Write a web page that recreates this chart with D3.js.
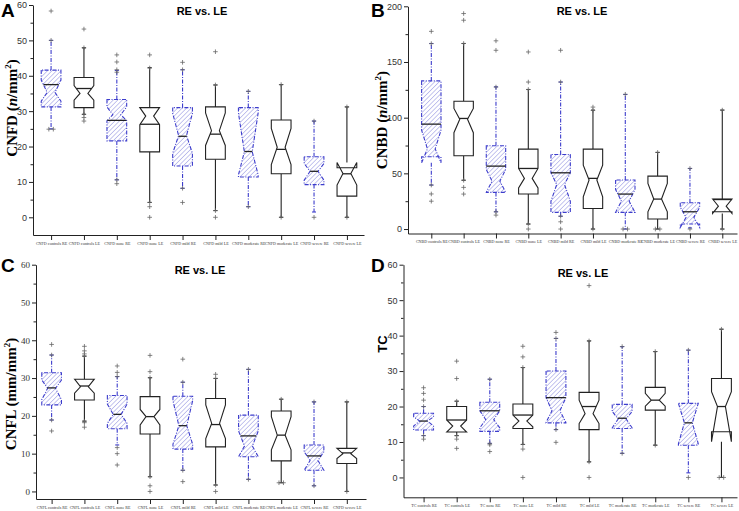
<!DOCTYPE html>
<html>
<head>
<meta charset="utf-8">
<script src="https://cdn.jsdelivr.net/npm/d3@7"></script>
<style>
body { margin: 0; background: #fff; }
svg { display: block; }
</style>
</head>
<body>
<svg width="739" height="511"></svg>
<script>
// box rows: [whiskerLow, q1, notchLow, waist, notchHigh, q3, whiskerHigh, median]
var cnfdLabels = ['CNFD controls RE', 'CNFD controls LE', 'CNFD none RE', 'CNFD none LE', 'CNFD mild RE',
                  'CNFD mild LE', 'CNFD moderate RE', 'CNFD moderate LE', 'CNFD severe RE', 'CNFD severe LE'];
var cnfdBoxes = [
    [25, 31.2, 32.8, 35.3, 38.8, 41.6, 50, 37.5],
    [29.1, 31.0, 33.1, 35.0, 37.2, 39.5, 47.9, 36.4],
    [10.6, 21.6, 27.3, 29.0, 31.2, 33.3, 41.5, 27.4],
    [4.2, 18.5, 26.2, 28.6, 31.0, 31.0, 42.3, 26.3],
    [8.2, 14.5, 18.1, 23.1, 29.4, 31.0, 41.7, 22.9],
    [1.9, 16.4, 20.3, 24.5, 29.5, 31.2, 37.4, 23.5],
    [3.0, 11.4, 12.0, 18.5, 29.5, 31.0, 35.6, 18.6],
    [0, 12.3, 14.9, 19.8, 25.1, 27.5, 37.5, 19.2],
    [1.5, 9.25, 10.5, 13.0, 15.2, 17.1, 27.2, 13.0],
    [0, 6.0, 9.1, 12.4, 15.5, 14.0, 31.2, 12.3]
];
var cnfdPoints = [
    [58.3, 50, 24.9, 24.9], [53.2, 47.9, 29.1, 28.2, 27.2], [45.9, 43.9, 41.7, 41, 10.6, 9.5],
    [45.9, 42.2, 4.2, 3, 0], [43.8, 41.7, 8.2, 4.2], [46.8, 37.4, 1.9, 0], [35.6, 3.0],
    [37.5, 0], [27.2, 0], [31.2, 0]
];
var cnfdTicks = [0, 10, 20, 30, 40, 50, 60];

var cnbdLabels = ['CNBD controls RE', 'CNBD controls LE', 'CNBD none RE', 'CNBD none LE', 'CNBD mild RE',
                  'CNBD mild LE', 'CNBD moderate RE', 'CNBD moderate LE', 'CNBD severe RE', 'CNBD severe LE'];
var cnbdBoxes = [
    [39.5, 64.9, 59.5, 72, 88.8, 133, 166.6, 94.2],
    [43.8, 65.8, 86.5, 98.5, 108.3, 114.8, 166.6, 99.3],
    [15.5, 32.9, 33, 43, 53.5, 74.8, 127.7, 56.5],
    [4.5, 31.4, 37, 45.5, 54.4, 71.8, 125.3, 54.4],
    [11.5, 15, 25, 40, 50.5, 67, 132, 50.5],
    [0, 18.5, 29, 44, 57.4, 71.8, 106.8, 45.5],
    [0, 15, 15, 25, 35.5, 44, 120.8, 31.4],
    [0, 9, 15.5, 27, 41, 47.5, 68.8, 26.9],
    [1, 4.5, 1.5, 10.5, 19.5, 23.6, 54.4, 15.5],
    [0, 15.5, 14, 20.5, 27, 27, 106.8, 26.5]
];
var cnbdPoints = [
    [177.5, 166.5, 39.5, 31.5, 25], [193.5, 187.5, 166.6, 43.8, 37.4, 31.4], [169, 160.5, 127.5, 15.5, 12.5],
    [159, 132, 125.3, 4.5, 0], [160.5, 132, 11.5, 6.5, 0], [109.5, 106.5, 0], [121, 0, 0],
    [68.8, 0, 0], [54.4, 0], [106.8, 0]
];
var cnbdTicks = [0, 50, 100, 150, 200];

var cnflLabels = ['CNFL controls RE', 'CNFL controls LE', 'CNFL none RE', 'CNFL none LE', 'CNFL mild RE',
                  'CNFL mild LE', 'CNFL moderate RE', 'CNFL moderate LE', 'CNFL severe RE', 'CNFD severe LE'];
var cnflBoxes = [
    [18.9, 22.9, 24.3, 27.3, 29.5, 31.4, 36.1, 27.4],
    [18.6, 24.2, 26.0, 27.7, 29.7, 29.7, 35.8, 27.9],
    [12.3, 16.6, 18.0, 20.4, 23.1, 25.4, 30.4, 20.4],
    [3.9, 15.2, 17.6, 19.8, 21.7, 25.1, 30.1, 19.8],
    [5.6, 11.2, 12.5, 17.4, 24.0, 25.2, 28.9, 17.4],
    [1.7, 11.8, 14.0, 18.0, 22.9, 24.6, 29.9, 17.7],
    [3.2, 9.2, 9.2, 12.0, 16.0, 20.2, 32.3, 14.7],
    [2.3, 8.1, 11.0, 14.9, 19.8, 21.3, 24.4, 14.9],
    [1.5, 5.6, 5.6, 8.2, 10.5, 12.3, 23.7, 9.4],
    [0, 7.4, 8.7, 10.0, 11.4, 11.4, 23.7, 10.2]
];
var cnflPoints = [
    [38.9, 36.1, 18.9, 16], [38.4, 37.2, 36.4, 35.8, 18.6, 18.2, 17], [33.2, 31.5, 30.4, 11.6, 10, 7],
    [36, 31.7, 30.1, 3.9, 1.5, 0], [35, 28.9, 5.6, 2.6], [31, 29.9, 1.7, 0], [32.3, 3.2],
    [24.4, 2.3, 2.3], [23.7, 1.5], [23.7, 0]
];
var cnflTicks = [0, 10, 20, 30, 40, 50, 60];

var tcLabels = ['TC controls RE', 'TC controls LE', 'TC none RE', 'TC none LE', 'TC mild RE',
                'TC mild LE', 'TC moderate RE', 'TC moderate LE', 'TC severe RE', 'TC severe LE'];
var tcBoxes = [
    [11.8, 13.4, 14.5, 15.9, 17.1, 18.1, 20, 15.9],
    [11.8, 12.8, 12.8, 14.5, 16.2, 20, 21.5, 16.2],
    [9.6, 13, 14, 16.3, 18.8, 21.2, 27.7, 18.8],
    [9.3, 13.8, 14.3, 15.9, 17.6, 20.7, 31, 17.6],
    [13.5, 15.4, 15.5, 18.8, 22.5, 30, 39.2, 22.5],
    [4.4, 13.5, 15.2, 18, 21.8, 24, 38.5, 20],
    [6.8, 13.8, 14, 16.5, 18.6, 20.6, 36.9, 16.7],
    [9.1, 19, 20.1, 21.8, 23.7, 25.4, 35.5, 21.8],
    [1.3, 9.1, 9.5, 15.4, 20.9, 20.9, 35.9, 15.4],
    [0, 12.9, 10.1, 20, 24.2, 27.9, 41.8, 20]
];
var tcPoints = [
    [25.3, 23.7, 21.8, 20, 11.8, 10.8], [32.8, 27.9, 21.5, 11.8, 10.8, 8.2], [27.7, 9.6, 9.2, 7.3],
    [37, 34, 31, 9.3, 8, 0], [40.9, 39.2, 13.5, 9.9], [54.1, 38.5, 4.4, 0], [36.9, 6.8],
    [35.5, 9.1], [35.9, 0], [41.8, 0, 0]
];
var tcTicks = [0, 10, 20, 30, 40, 50, 60];

var titleText = 'RE vs. LE';

var svg = d3.select('svg');

// hatch for the RE boxes
svg.append('defs').append('pattern')
    .attr('id', 'hatch')
    .attr('patternUnits', 'userSpaceOnUse')
    .attr('width', 3.2).attr('height', 3.2)
    .attr('patternTransform', 'rotate(45)')
    .append('line')
    .attr('x1', 0).attr('y1', 0).attr('x2', 0).attr('y2', 3.2)
    .attr('stroke', '#8d8ddf').attr('stroke-width', 1);

var panels = [
    {letter: 'A', labels: cnfdLabels, boxes: cnfdBoxes, points: cnfdPoints, ticks: cnfdTicks,
     yDom: [-5, 60], left: 33, right: 364, top: 5, bottom: 235, xDom: [0.45, 10.52],
     yTitle: 'CNFD', unit: 'n', serifTicks: false, lx: 17, ly: 108, tx: 202, ty: 15, letX: 1, letY: 17},
    {letter: 'B', labels: cnbdLabels, boxes: cnbdBoxes, points: cnbdPoints, ticks: cnbdTicks,
     yDom: [-4, 200], left: 408, right: 737, top: 6.3, bottom: 233.5, xDom: [0.279, 10.455],
     yTitle: 'CNBD', unit: 'n', serifTicks: false, lx: 387, ly: 120, tx: 582, ty: 15, letX: 371, letY: 17},
    {letter: 'C', labels: cnflLabels, boxes: cnflBoxes, points: cnflPoints, ticks: cnflTicks,
     yDom: [-2, 60], left: 36, right: 366, top: 264.7, bottom: 499, xDom: [0.524, 10.585],
     yTitle: 'CNFL', unit: 'mm', serifTicks: true, lx: 16, ly: 394, tx: 200, ty: 274, letX: 1, letY: 272},
    {letter: 'D', labels: tcLabels, boxes: tcBoxes, points: tcPoints, ticks: tcTicks,
     yDom: [-5.6, 60], left: 403.5, right: 737, top: 264.7, bottom: 497.3, xDom: [0.393, 10.47],
     yTitle: 'TC', unit: null, serifTicks: false, lx: 387, ly: 344, tx: 583, ty: 277, letX: 371, letY: 272}
];

panels.forEach(drawPanel);

function drawPanel(p) {
    var g = svg.append('g');
    var x = d3.scaleLinear().domain(p.xDom).range([p.left, p.right]);
    var y = d3.scaleLinear().domain(p.yDom).range([p.bottom, p.top]);
    var step = x(2) - x(1);
    var bw = step * 0.6;
    var inset = bw * 0.3;
    var tickFont = p.serifTicks ? 'Liberation Serif, Times New Roman, serif' : 'Liberation Sans, Arial, sans-serif';

    // minor ticks
    var minor = p.ticks.slice(1).map((d, i) => (d + p.ticks[i]) / 2);
    g.append('g')
        .attr('transform', 'translate(' + p.left + ',0)')
        .call(d3.axisLeft(y).tickValues(minor).tickSize(2.5).tickFormat(''))
        .call(a => a.select('.domain').remove())
        .selectAll('line').attr('stroke', '#222');

    var ya = g.append('g')
        .attr('transform', 'translate(' + p.left + ',0)')
        .call(d3.axisLeft(y).tickValues(p.ticks).tickSize(4).tickSizeOuter(0).tickPadding(2));
    ya.selectAll('line, path').attr('stroke', '#222');
    ya.selectAll('text').attr('font-family', tickFont).attr('font-size', 9).attr('fill', '#333');

    var xa = g.append('g')
        .attr('transform', 'translate(0,' + p.bottom + ')')
        .call(d3.axisBottom(x).tickValues(d3.range(1, 11)).tickSize(5).tickSizeOuter(0).tickPadding(2)
            .tickFormat((d, i) => p.labels[i]));
    xa.selectAll('line, path').attr('stroke', '#222');
    xa.selectAll('text').attr('font-family', 'Liberation Serif, Times New Roman, serif')
        .attr('font-size', 4.1).attr('fill', '#333');

    p.boxes.forEach(function (b, i) {
        var re = i % 2 === 0;
        var cx = x(i + 1);
        var L = cx - bw / 2, R = cx + bw / 2;
        var wLo = b[0], q1 = b[1], nLo = b[2], waist = b[3], nHi = b[4], q3 = b[5], wHi = b[6], med = b[7];
        var col = re ? '#3d3dcc' : '#222';
        var dash = re ? '4,1.5,1,1.5' : null;

        // whiskers
        [[Math.max(q3, nHi), wHi], [Math.min(q1, nLo), wLo]].forEach(function (w) {
            g.append('line')
                .attr('x1', cx).attr('x2', cx)
                .attr('y1', y(w[0])).attr('y2', y(w[1]))
                .attr('stroke', col).attr('stroke-width', 1.1)
                .attr('stroke-dasharray', dash);
            g.append('line')
                .attr('x1', cx - 2).attr('x2', cx + 2)
                .attr('y1', y(w[1])).attr('y2', y(w[1]))
                .attr('stroke', col).attr('stroke-width', 1.1);
        });

        var pts = [[L, q3], [L, nHi], [L + inset, waist], [L, nLo], [L, q1],
                   [R, q1], [R, nLo], [R - inset, waist], [R, nHi], [R, q3]];
        var path = d3.line().x(d => d[0]).y(d => y(d[1]));
        g.append('path')
            .attr('d', path(pts) + 'Z')
            .attr('fill', re ? 'url(#hatch)' : '#fff')
            .attr('stroke', col).attr('stroke-width', 1.1)
            .attr('stroke-dasharray', dash);

        // median, as wide as the box at that height
        var half = bw / 2;
        if (med < nHi && med > waist) half = bw / 2 - inset * (nHi - med) / (nHi - waist);
        else if (med <= waist && med > nLo) half = bw / 2 - inset * (med - nLo) / (waist - nLo);
        else if (med === waist) half = bw / 2 - inset;
        g.append('line')
            .attr('x1', cx - half).attr('x2', cx + half)
            .attr('y1', y(med)).attr('y2', y(med))
            .attr('stroke', '#222').attr('stroke-width', 1.3);

        // outliers as + markers, equal values side by side
        var counts = d3.rollup(p.points[i], v => v.length, d => d);
        var seen = new Map();
        p.points[i].forEach(function (v) {
            var n = counts.get(v);
            var k = seen.get(v) || 0;
            seen.set(v, k + 1);
            var px = cx + (k - (n - 1) / 2) * 4.5;
            var py = y(v);
            g.append('path')
                .attr('d', 'M' + (px - 2.3) + ',' + py + 'h4.6M' + px + ',' + (py - 2.3) + 'v4.6')
                .attr('stroke', '#666').attr('stroke-width', 0.8).attr('fill', 'none');
        });
    });

    // title and letter
    g.append('text')
        .attr('x', p.tx).attr('y', p.ty)
        .attr('text-anchor', 'middle')
        .attr('font-family', 'Liberation Sans, Arial, sans-serif')
        .attr('font-weight', 'bold').attr('font-size', 11)
        .text(titleText);
    g.append('text')
        .attr('x', p.letX).attr('y', p.letY)
        .attr('font-family', 'Liberation Sans, Arial, sans-serif')
        .attr('font-weight', 'bold').attr('font-size', 19)
        .text(p.letter);

    // y axis title
    var t = g.append('text')
        .attr('transform', 'translate(' + p.lx + ',' + p.ly + ') rotate(-90)')
        .attr('text-anchor', 'middle')
        .attr('font-weight', 'bold');
    if (p.unit === null) {
        t.attr('font-family', 'Liberation Sans, Arial, sans-serif').attr('font-size', 13).text(p.yTitle);
    } else {
        t.attr('font-family', 'Liberation Serif, Times New Roman, serif').attr('font-size', 15);
        t.append('tspan').text(p.yTitle + ' (');
        var u = t.append('tspan').text(p.unit);
        if (p.unit === 'n') u.attr('font-style', 'italic');
        t.append('tspan').text('/mm');
        t.append('tspan').attr('font-size', 9).attr('dy', -6).text('2');
        t.append('tspan').attr('dy', 6).text(')');
    }
}
</script>
</body>
</html>
